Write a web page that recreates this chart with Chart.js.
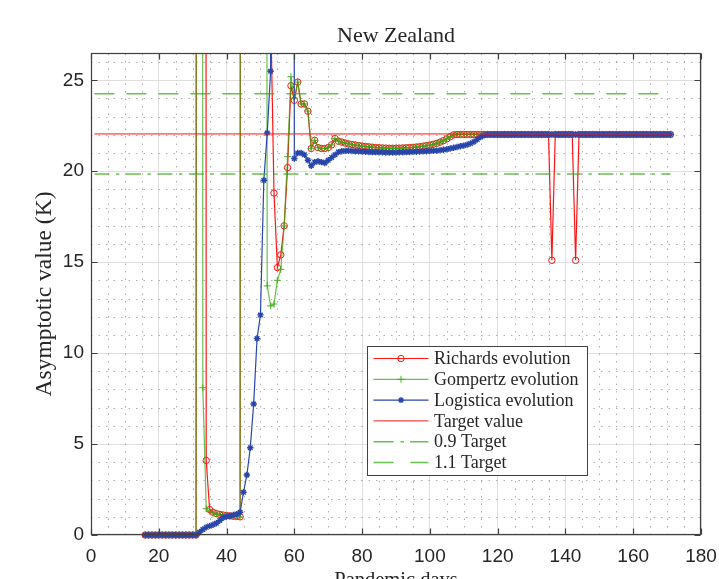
<!DOCTYPE html>
<html>
<head>
<meta charset="utf-8">
<title>New Zealand</title>
<script src="https://cdn.jsdelivr.net/npm/chart.js@4.4.1/dist/chart.umd.min.js"></script>
<style>
  html, body { margin: 0; padding: 0; background: #ffffff; }
  canvas { display: block; }
</style>
</head>
<body>
<canvas id="chart" width="719" height="579"></canvas>
<script>
// Pandemic day of each estimate
const days = [
  16, 17, 18, 19, 20, 21, 22, 23, 24, 25,
  26, 27, 28, 29, 30, 31, 32, 33, 34, 35,
  36, 37, 38, 39, 40, 41, 42, 43, 44, 45,
  46, 47, 48, 49, 50, 51, 52, 53, 54, 55,
  56, 57, 58, 59, 60, 61, 62, 63, 64, 65,
  66, 67, 68, 69, 70, 71, 72, 73, 74, 75,
  76, 77, 78, 79, 80, 81, 82, 83, 84, 85,
  86, 87, 88, 89, 90, 91, 92, 93, 94, 95,
  96, 97, 98, 99, 100, 101, 102, 103, 104, 105,
  106, 107, 108, 109, 110, 111, 112, 113, 114, 115,
  116, 117, 118, 119, 120, 121, 122, 123, 124, 125,
  126, 127, 128, 129, 130, 131, 132, 133, 134, 135,
  136, 137, 138, 139, 140, 141, 142, 143, 144, 145,
  146, 147, 148, 149, 150, 151, 152, 153, 154, 155,
  156, 157, 158, 159, 160, 161, 162, 163, 164, 165,
  166, 167, 168, 169, 170, 171
];

// Asymptotic value K estimated by each model (values far above the axis are off-scale fits)
const richards = [
  0, 0, 0, 0, 0, 0, 0, 0, 0, 0,
  0, 0, 0, 0, 0, 0, 480, 460, 4.1, 1.4,
  1.25, 1.18, 1.13, 1.1, 1.07, 1.05, 1.03, 1.02, 1.0, 520,
  470, 430, 390, 350, 300, 240, 160, 29, 18.8, 14.7,
  15.4, 17.0, 20.2, 24.7, 23.9, 24.9, 23.7, 23.7, 23.3, 21.25,
  21.7, 21.3, 21.25, 21.25, 21.3, 21.45, 21.8, 21.65, 21.6, 21.55,
  21.5, 21.47, 21.44, 21.41, 21.38, 21.36, 21.34, 21.32, 21.3, 21.29,
  21.28, 21.27, 21.26, 21.26, 21.26, 21.27, 21.28, 21.29, 21.3, 21.31,
  21.33, 21.35, 21.38, 21.41, 21.44, 21.48, 21.53, 21.6, 21.68, 21.78,
  21.9, 22.0, 22.02, 22.02, 22.02, 22.02, 22.02, 22.02, 22.02, 22.02,
  22.02, 22.02, 22.02, 22.02, 22.02, 22.02, 22.02, 22.02, 22.02, 22.02,
  22.02, 22.02, 22.02, 22.02, 22.02, 22.02, 22.02, 22.02, 22.02, 22.02,
  15.1, 22.02, 22.02, 22.02, 22.02, 22.02, 22.02, 15.1, 22.02, 22.02,
  22.02, 22.02, 22.02, 22.02, 22.02, 22.02, 22.02, 22.02, 22.02, 22.02,
  22.02, 22.02, 22.02, 22.02, 22.02, 22.02, 22.02, 22.02, 22.02, 22.02,
  22.02, 22.02, 22.02, 22.02, 22.02, 22.02
];

const gompertz = [
  0, 0, 0, 0, 0, 0, 0, 0, 0, 0,
  0, 0, 0, 0, 0, 0, 450, 8.1, 1.45, 1.3,
  1.2, 1.15, 1.12, 1.09, 1.06, 1.04, 1.03, 1.02, 1.0, 500,
  450, 400, 350, 300, 240, 170, 13.7, 12.6, 12.7, 14.0,
  14.6, 17.0, 20.8, 25.2, 24.0, 24.9, 23.7, 23.7, 23.3, 21.25,
  21.7, 21.3, 21.25, 21.25, 21.3, 21.45, 21.8, 21.65, 21.6, 21.55,
  21.5, 21.47, 21.44, 21.41, 21.38, 21.36, 21.34, 21.32, 21.3, 21.29,
  21.28, 21.27, 21.26, 21.26, 21.26, 21.27, 21.28, 21.29, 21.3, 21.31,
  21.33, 21.35, 21.38, 21.41, 21.44, 21.48, 21.53, 21.6, 21.68, 21.78,
  21.9, 22.0, 22.02, 22.02, 22.02, 22.02, 22.02, 22.02, 22.02, 22.02,
  22.02, 22.02, 22.02, 22.02, 22.02, 22.02, 22.02, 22.02, 22.02, 22.02,
  22.02, 22.02, 22.02, 22.02, 22.02, 22.02, 22.02, 22.02, 22.02, 22.02,
  22.02, 22.02, 22.02, 22.02, 22.02, 22.02, 22.02, 22.02, 22.02, 22.02,
  22.02, 22.02, 22.02, 22.02, 22.02, 22.02, 22.02, 22.02, 22.02, 22.02,
  22.02, 22.02, 22.02, 22.02, 22.02, 22.02, 22.02, 22.02, 22.02, 22.02,
  22.02, 22.02, 22.02, 22.02, 22.02, 22.02
];

const logistica = [
  0, 0, 0, 0, 0, 0, 0, 0, 0, 0,
  0, 0, 0, 0, 0, 0, 0.15, 0.3, 0.42, 0.5,
  0.56, 0.65, 0.8, 0.95, 1.02, 1.05, 1.1, 1.15, 1.25, 2.35,
  3.3, 4.8, 7.2, 10.8, 12.1, 19.5, 22.1, 25.5, 380, 420,
  400, 360, 300, 220, 20.7, 21.0, 21.0, 20.9, 20.6, 20.3,
  20.5, 20.55, 20.5, 20.45, 20.6, 20.75, 20.9, 21.05, 21.1, 21.12,
  21.12, 21.11, 21.1, 21.09, 21.08, 21.07, 21.06, 21.05, 21.05, 21.04,
  21.04, 21.03, 21.03, 21.03, 21.03, 21.04, 21.04, 21.05, 21.06, 21.07,
  21.07, 21.08, 21.09, 21.1, 21.11, 21.12, 21.13, 21.15, 21.18, 21.21,
  21.25, 21.29, 21.33, 21.37, 21.41, 21.46, 21.53, 21.62, 21.75, 21.88,
  21.98, 22.02, 22.02, 22.02, 22.02, 22.02, 22.02, 22.02, 22.02, 22.02,
  22.02, 22.02, 22.02, 22.02, 22.02, 22.02, 22.02, 22.02, 22.02, 22.02,
  22.02, 22.02, 22.02, 22.02, 22.02, 22.02, 22.02, 22.02, 22.02, 22.02,
  22.02, 22.02, 22.02, 22.02, 22.02, 22.02, 22.02, 22.02, 22.02, 22.02,
  22.02, 22.02, 22.02, 22.02, 22.02, 22.02, 22.02, 22.02, 22.02, 22.02,
  22.02, 22.02, 22.02, 22.02, 22.02, 22.02
];

// Reference levels
const targetValue = 22.05;
const targetSpan = [1, 171];

// Axis ticks
const xTickValues = [0, 20, 40, 60, 80, 100, 120, 140, 160, 180];
const yTickValues = [0, 5, 10, 15, 20, 25];

const RED = 'rgb(255, 20, 20)';
const GREEN = 'rgba(55, 170, 20, 0.75)';
const BLUE = 'rgb(40, 70, 170)';
const AXIS = 'rgb(64, 64, 64)';
const TEXT = 'rgb(38, 38, 38)';
const SERIF = '"Liberation Serif", "Times New Roman", serif';
const SANS = '"Liberation Sans", Arial, sans-serif';

const points = values => days.map((d, i) => ({ x: d, y: values[i] }));
const level = factor => targetSpan.map(d => ({ x: d, y: factor * targetValue }));

const DASH_DOT = [15, 6.5, 3.5, 6.5];
const DASHED = [20, 12];

const legendItems = [
  { text: 'Richards evolution', color: RED, width: 1.2, dash: [], marker: 'circle' },
  { text: 'Gompertz evolution', color: GREEN, width: 1.2, dash: [], marker: 'cross' },
  { text: 'Logistica evolution', color: BLUE, width: 1.2, dash: [], marker: 'star' },
  { text: 'Target value', color: RED, width: 1, dash: [] },
  { text: '0.9 Target', color: GREEN, width: 1.5, dash: [20, 7, 3.5, 6] },
  { text: '1.1 Target', color: GREEN, width: 1.5, dash: [20, 17] }
];

function drawMarker(ctx, style, x, y, color) {
  ctx.save();
  ctx.strokeStyle = color;
  ctx.setLineDash([]);
  ctx.beginPath();
  if (style === 'circle') {
    ctx.lineWidth = 1;
    ctx.arc(x, y, 3.2, 0, Math.PI * 2);
  } else if (style === 'cross') {
    ctx.lineWidth = 1.2;
    ctx.moveTo(x - 3.5, y); ctx.lineTo(x + 3.5, y);
    ctx.moveTo(x, y - 3.5); ctx.lineTo(x, y + 3.5);
  } else if (style === 'star') {
    ctx.lineWidth = 1.3;
    for (let k = 0; k < 4; k++) {
      const a = k * Math.PI / 4;
      ctx.moveTo(x - 3 * Math.cos(a), y - 3 * Math.sin(a));
      ctx.lineTo(x + 3 * Math.cos(a), y + 3 * Math.sin(a));
    }
  }
  ctx.stroke();
  ctx.restore();
}

// Minor dotted grid, axes box with inward ticks, and the legend panel
const framePlugin = {
  id: 'frame',
  beforeDatasetsDraw(chart) {
    const { ctx, chartArea: a, scales: { x, y } } = chart;
    ctx.save();
    ctx.strokeStyle = 'rgba(140, 140, 140, 0.7)';
    ctx.lineWidth = 1;
    ctx.setLineDash([1.5, 6]);
    for (let v = 5; v < 180; v += 5) {
      if (v % 20 === 0) continue;
      const px = Math.round(x.getPixelForValue(v)) + 0.5;
      ctx.beginPath(); ctx.moveTo(px, a.bottom); ctx.lineTo(px, a.top); ctx.stroke();
    }
    for (let v = 1; v < y.max; v += 1) {
      if (v % 5 === 0) continue;
      const py = Math.round(y.getPixelForValue(v)) + 0.5;
      ctx.beginPath(); ctx.moveTo(a.left, py); ctx.lineTo(a.right, py); ctx.stroke();
    }
    ctx.restore();
  },
  afterDatasetsDraw(chart) {
    const { ctx, chartArea: a, scales: { x, y } } = chart;
    ctx.save();
    ctx.strokeStyle = AXIS;
    ctx.lineWidth = 1.2;
    ctx.setLineDash([]);
    const L = Math.round(a.left) + 0.5, R = Math.round(a.right) - 0.5;
    const T = Math.round(a.top) + 0.5, B = Math.round(a.bottom) - 0.5;
    ctx.strokeRect(L, T, R - L, B - T);
    const tick = 6;
    ctx.beginPath();
    xTickValues.forEach(v => {
      const px = Math.round(x.getPixelForValue(v)) + 0.5;
      ctx.moveTo(px, B); ctx.lineTo(px, B - tick);
      ctx.moveTo(px, T); ctx.lineTo(px, T + tick);
    });
    yTickValues.forEach(v => {
      const py = Math.round(y.getPixelForValue(v)) + 0.5;
      ctx.moveTo(L, py); ctx.lineTo(L + tick, py);
      ctx.moveTo(R, py); ctx.lineTo(R - tick, py);
    });
    ctx.stroke();

    // legend
    const bx = 367.5, by = 346.5, bw = 220, bh = 129;
    ctx.fillStyle = '#ffffff';
    ctx.fillRect(bx, by, bw, bh);
    ctx.strokeStyle = AXIS;
    ctx.lineWidth = 1;
    ctx.strokeRect(bx, by, bw, bh);
    ctx.font = '18px ' + SERIF;
    ctx.textBaseline = 'middle';
    ctx.textAlign = 'left';
    legendItems.forEach((it, i) => {
      const cy = 358.5 + i * 20.8;
      ctx.strokeStyle = it.color;
      ctx.lineWidth = it.width;
      ctx.setLineDash(it.dash);
      ctx.beginPath(); ctx.moveTo(373.5, cy); ctx.lineTo(428.5, cy); ctx.stroke();
      ctx.setLineDash([]);
      if (it.marker) drawMarker(ctx, it.marker, 401, cy, it.color);
      ctx.fillStyle = TEXT;
      ctx.fillText(it.text, 434, cy + 1);
    });
    ctx.restore();
  }
};

new Chart(document.getElementById('chart'), {
  type: 'line',
  data: {
    datasets: [
      {
        label: 'Richards evolution', data: points(richards),
        borderColor: RED, borderWidth: 1.2,
        pointStyle: 'circle', pointRadius: 3.2, pointBorderWidth: 1,
        pointBorderColor: RED, pointBackgroundColor: 'rgba(0,0,0,0)', order: 6
      },
      {
        label: 'Gompertz evolution', data: points(gompertz),
        borderColor: GREEN, borderWidth: 1.2,
        pointStyle: 'cross', pointRadius: 3.5, pointBorderWidth: 1.2,
        pointBorderColor: GREEN, pointBackgroundColor: GREEN, order: 5
      },
      {
        label: 'Logistica evolution', data: points(logistica),
        borderColor: BLUE, borderWidth: 1.2,
        pointStyle: 'star', pointRadius: 3.2, pointBorderWidth: 1.4,
        pointBorderColor: BLUE, pointBackgroundColor: BLUE, order: 4
      },
      {
        label: 'Target value', data: level(1),
        borderColor: RED, borderWidth: 1, pointRadius: 0, order: 3
      },
      {
        label: '0.9 Target', data: level(0.9),
        borderColor: GREEN, borderWidth: 1.5, borderDash: DASH_DOT, pointRadius: 0, order: 2
      },
      {
        label: '1.1 Target', data: level(1.1),
        borderColor: GREEN, borderWidth: 1.5, borderDash: DASHED, pointRadius: 0, order: 1
      }
    ]
  },
  options: {
    responsive: false,
    devicePixelRatio: 1,
    animation: false,
    events: [],
    clip: { left: 4, top: 0, right: 4, bottom: 4 },
    layout: { padding: { left: 0, right: 18, top: 0, bottom: 0 } },
    plugins: {
      legend: { display: false },
      tooltip: { enabled: false },
      title: {
        display: true,
        text: 'New Zealand',
        fullSize: false,
        color: TEXT,
        font: { family: SERIF, size: 22, weight: 'normal' },
        padding: { top: 23.5, bottom: 3.1 }
      }
    },
    scales: {
      x: {
        type: 'linear',
        min: 0, max: 180,
        afterBuildTicks: s => { s.ticks = xTickValues.map(v => ({ value: v })); },
        afterFit: s => { s.height = 44; s.paddingLeft = 0; s.paddingRight = 0; },
        grid: { color: 'rgb(223, 223, 223)', lineWidth: 1, drawTicks: false },
        border: { display: false },
        ticks: { color: TEXT, font: { family: SANS, size: 19 }, padding: 10.5, maxRotation: 0, autoSkip: false },
        title: {
          display: true, text: 'Pandemic days', color: TEXT,
          font: { family: SERIF, size: 20.5 }, padding: { top: 0, bottom: -14 }
        }
      },
      y: {
        type: 'linear',
        min: 0, max: 26.5,
        afterBuildTicks: s => { s.ticks = yTickValues.map(v => ({ value: v })); },
        afterFit: s => { s.width = 91; s.paddingTop = 0; s.paddingBottom = 0; },
        grid: { color: 'rgb(223, 223, 223)', lineWidth: 1, drawTicks: false },
        border: { display: false },
        ticks: { color: TEXT, font: { family: SANS, size: 19 }, padding: 7, autoSkip: false },
        title: {
          display: true, text: 'Asymptotic value (K)', color: TEXT,
          font: { family: SERIF, size: 23.5 }, padding: { top: 30.5, bottom: 0 }
        }
      }
    }
  },
  plugins: [framePlugin]
});
</script>
</body>
</html>
